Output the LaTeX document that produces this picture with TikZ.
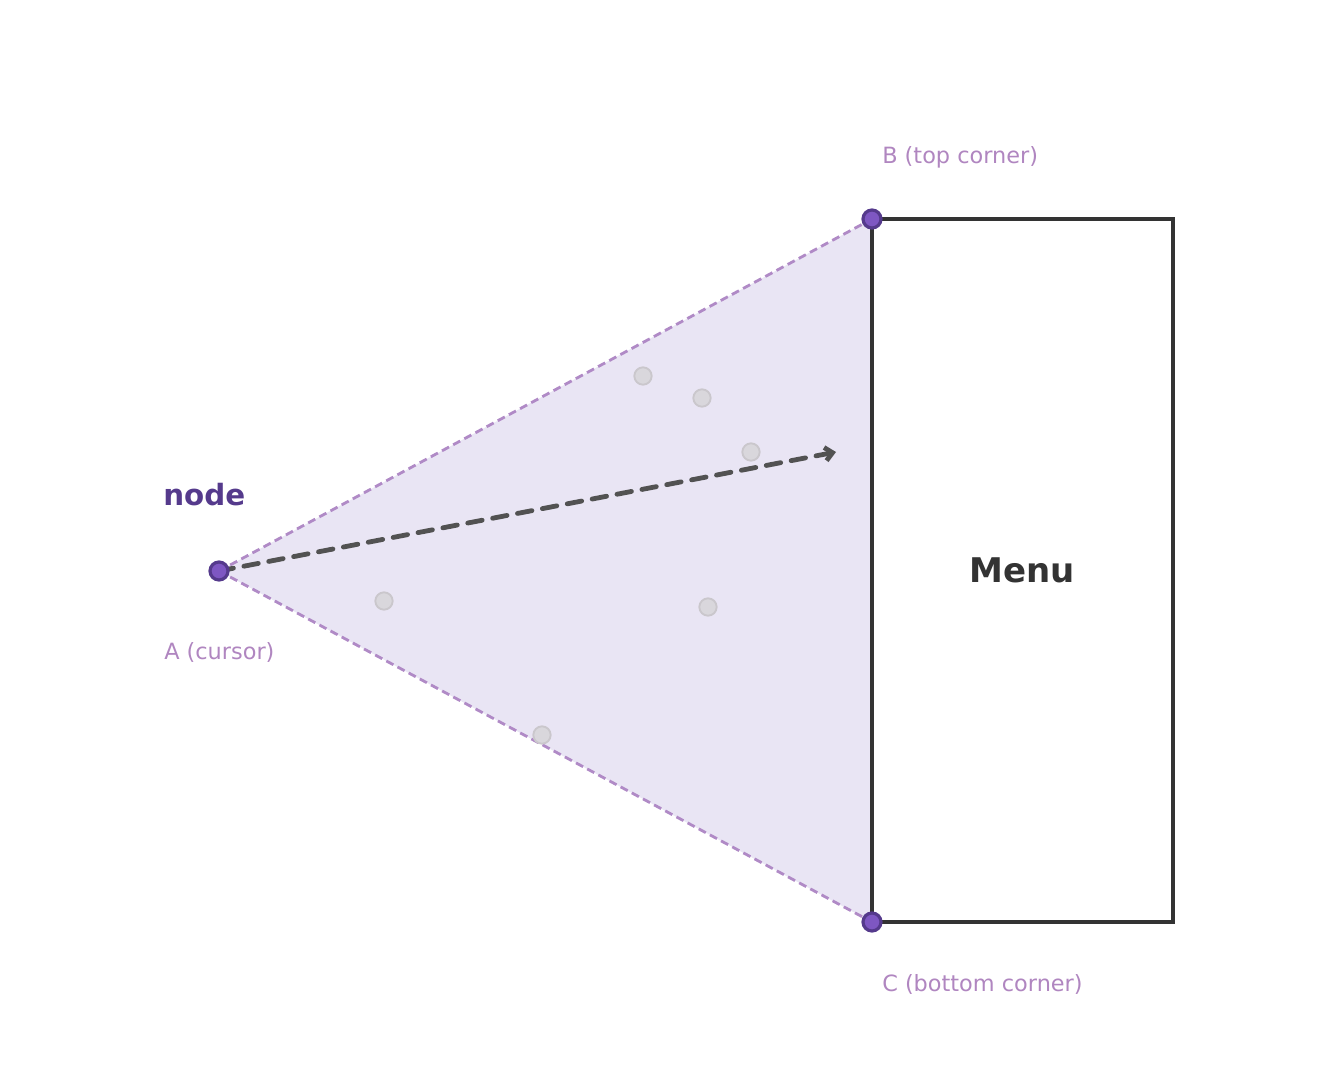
\documentclass[tikz,border=0pt]{standalone}
\usepackage{fontspec}
\setmainfont{DejaVu Sans}
\usetikzlibrary{arrows.meta}
\definecolor{vdark}{HTML}{553A8C}
\definecolor{vfill}{HTML}{7E57C2}
\definecolor{conefill}{HTML}{E9E5F4}
\definecolor{coneedge}{HTML}{B08AC6}
\definecolor{lbl}{HTML}{B086C0}
\definecolor{ink}{HTML}{333333}
\definecolor{dotfill}{HTML}{D9D7DC}
\definecolor{dotedge}{HTML}{CAC7CC}
\tikzset{
  >={Straight Barb[length=5.5pt,width=10pt,line width=3.6pt]},
}
\tikzstyle{corner}=[circle,draw=vdark,fill=vfill,line width=2.4pt,inner sep=0pt,minimum size=13.5pt]
\tikzstyle{sample}=[circle,draw=dotedge,fill=dotfill,line width=1.4pt,inner sep=0pt,minimum size=13pt]
\tikzstyle{edge}=[coneedge,line width=2.1pt,dash pattern=on 6pt off 3.5pt]
\tikzstyle{lab}=[anchor=west,text=lbl,font=\fontsize{16.8}{20}\selectfont,inner sep=0pt]

\begin{document}
\begin{tikzpicture}[x=0.75pt,y=-0.75pt]
    \useasboundingbox (0,0) rectangle (1342,1091);
    % menu box and the three corners of the safe triangle
    \node[outer sep=0pt,minimum width=225.75pt,minimum height=527.25pt,
      font=\fontsize{25.5}{30}\selectfont\bfseries,text=ink] (menu) at (1022.5,570.5) {Menu};
    \coordinate (a) at (219,571);
    \coordinate (b) at (menu.north west);
    \coordinate (c) at (menu.south west);
    \coordinate (tip) at (836,452);
    \fill[conefill] (a) -- (b) -- (c) -- cycle;
    \draw[ink,line width=3.3pt] (menu.north west) rectangle (menu.south east);
    \draw[edge] (a) -- (b);
    \draw[edge] (a) -- (c);
    % pointer samples
    \node[sample] (s1) at (643,376) {};
    \node[sample] (s2) at (702,398) {};
    \node[sample] (s3) at (751,452) {};
    \node[sample] (s4) at (384,601) {};
    \node[sample] (s5) at (708,607) {};
    \node[sample] (s6) at (542,735) {};
    \draw[->,color=ink!85,line width=3.6pt,line cap=round,dash pattern=on 11pt off 8pt] (a) -- (tip);
    \node[corner] (pa) at (a) {};
    \node[corner] (pb) at (b) {};
    \node[corner] (pc) at (c) {};
    % labels
    \node[anchor=west,inner sep=0pt,text=vdark,font=\fontsize{22}{26}\selectfont\bfseries] (nodelbl) at (163,495) {node};
    \node[lab] (alab) at (164,652) {A (cursor)};
    \node[lab] (blab) at (882,157) {B (top corner)};
    \node[lab] (clab) at (882,984) {C (bottom corner)};
  \end{tikzpicture}
\end{document}
